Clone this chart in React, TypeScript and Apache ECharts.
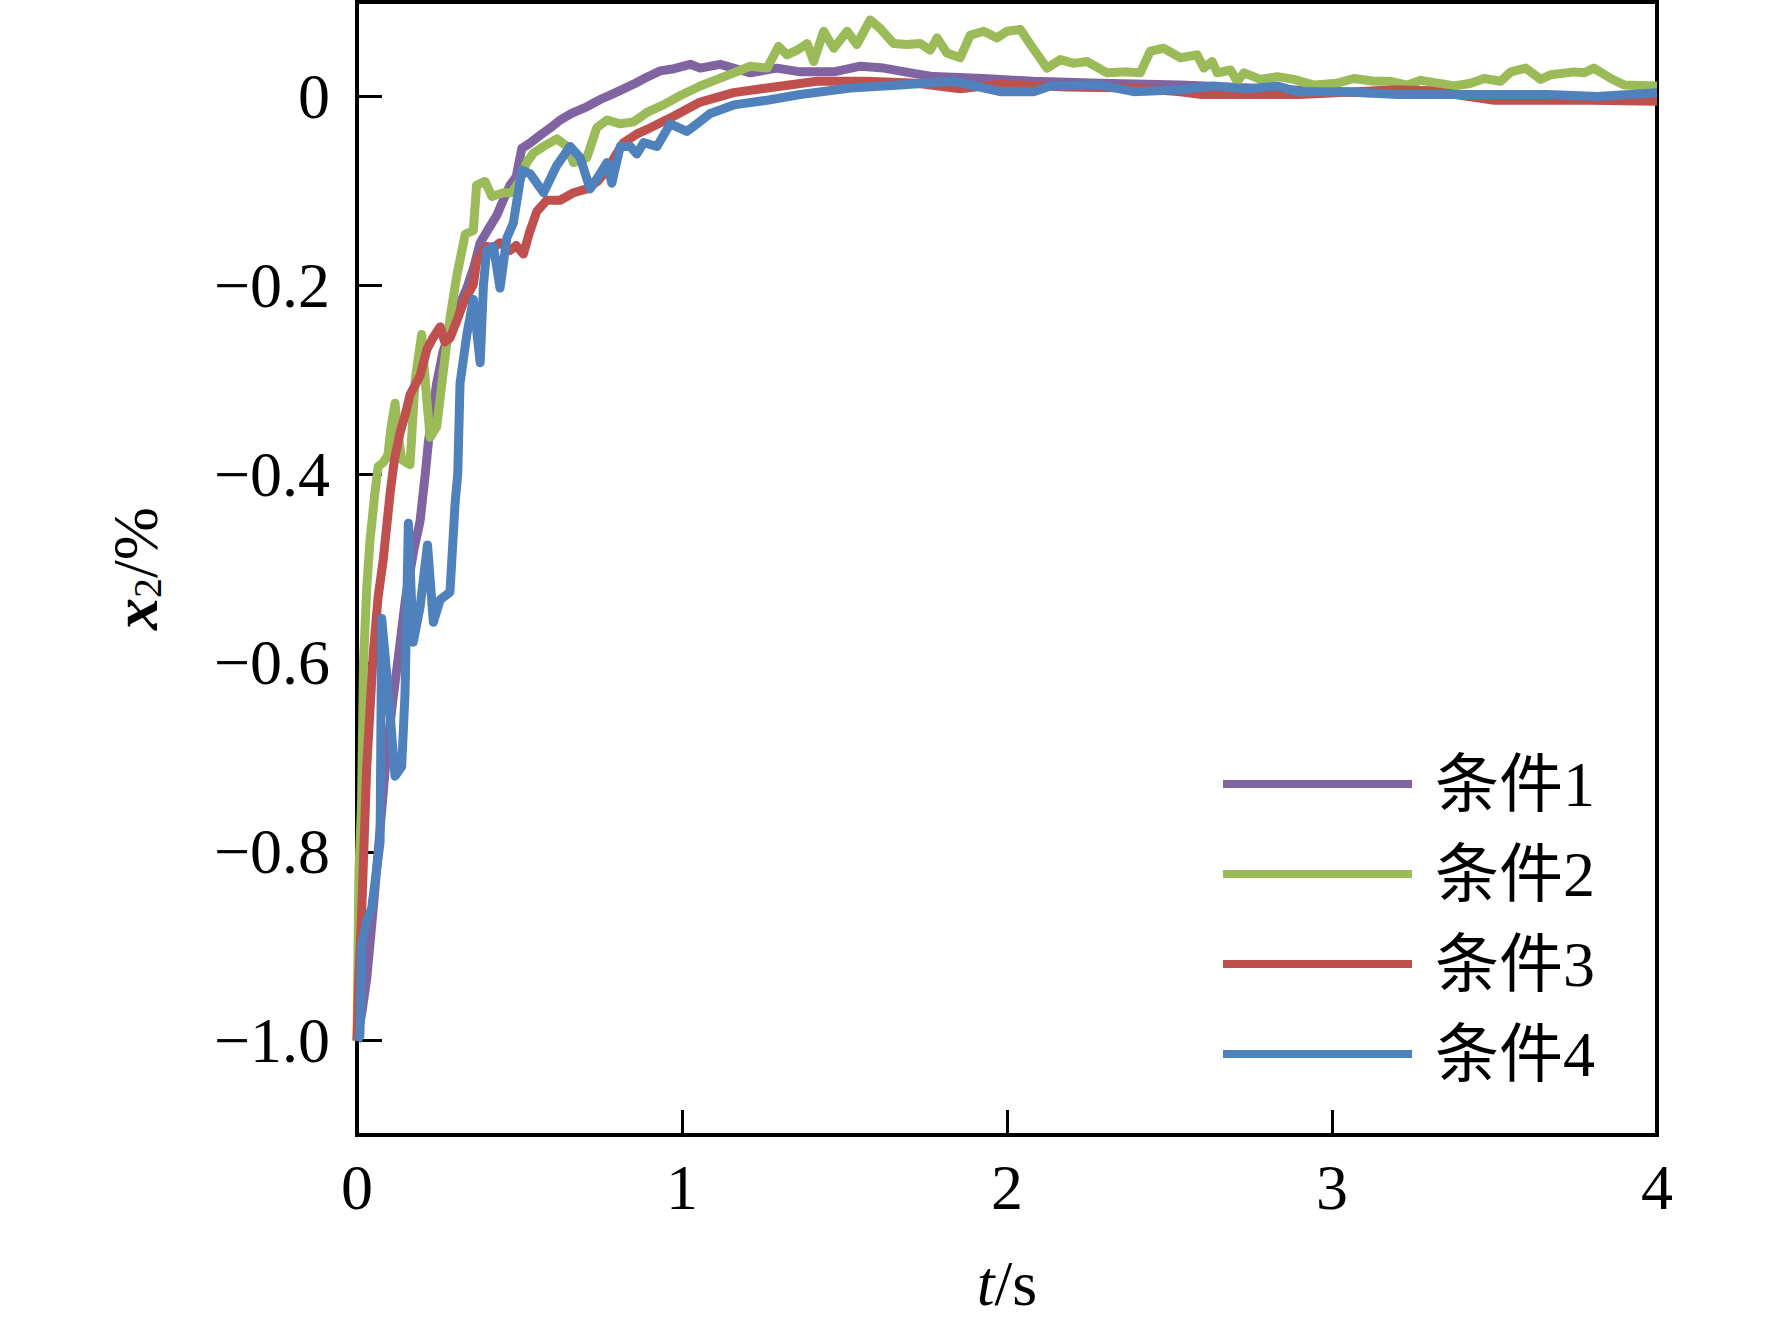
import React, { useEffect, useRef } from "react";
import * as echarts from "echarts";

const seriesNames = ["条件1", "条件2", "条件3", "条件4"];
const seriesColors = ["#8064A2", "#9BBB59", "#C0504D", "#4F81BD"];

const xTicks = [0, 1, 2, 3, 4];
const yTicks = [-1.0, -0.8, -0.6, -0.4, -0.2, 0];

const cond1: [number, number][] = [
  [0, -1.0], [0.015, -0.97], [0.03, -0.934], [0.05, -0.86], [0.07, -0.78], [0.09, -0.7],
  [0.11, -0.64], [0.125, -0.6], [0.15, -0.53], [0.175, -0.48], [0.194, -0.45], [0.21, -0.4],
  [0.22, -0.365], [0.245, -0.304], [0.265, -0.27], [0.286, -0.25], [0.31, -0.225], [0.338, -0.203],
  [0.36, -0.18], [0.379, -0.155], [0.405, -0.14], [0.43, -0.126], [0.45, -0.11], [0.471, -0.094],
  [0.49, -0.085], [0.507, -0.055], [0.53, -0.05], [0.564, -0.041], [0.6, -0.032], [0.625, -0.025],
  [0.66, -0.018], [0.707, -0.011], [0.75, -0.003], [0.789, 0.003], [0.82, 0.008], [0.851, 0.013],
  [0.89, 0.02], [0.933, 0.027], [0.97, 0.029], [1.025, 0.034], [1.056, 0.03], [1.118, 0.034],
  [1.179, 0.028], [1.21, 0.025], [1.292, 0.03], [1.364, 0.026], [1.467, 0.026], [1.549, 0.032],
  [1.621, 0.03], [1.703, 0.025], [1.774, 0.021], [1.928, 0.019], [2.082, 0.016], [2.287, 0.014],
  [2.534, 0.012], [2.8, 0.008], [3.1, 0.004], [3.4, 0.002], [3.7, 0.0], [4.0, -0.003],
];

const cond2: [number, number][] = [
  [0, -1.0], [0.006, -0.82], [0.014, -0.75], [0.02, -0.6], [0.03, -0.52], [0.04, -0.47],
  [0.055, -0.42], [0.065, -0.392], [0.08, -0.388], [0.095, -0.38], [0.105, -0.35], [0.117, -0.325],
  [0.127, -0.36], [0.138, -0.385], [0.163, -0.39], [0.179, -0.3], [0.199, -0.252], [0.212, -0.31],
  [0.225, -0.361], [0.245, -0.35], [0.266, -0.29], [0.286, -0.235], [0.307, -0.19], [0.333, -0.146],
  [0.358, -0.142], [0.368, -0.094], [0.394, -0.09], [0.415, -0.106], [0.451, -0.102], [0.476, -0.102],
  [0.5, -0.09], [0.522, -0.07], [0.543, -0.06], [0.574, -0.053], [0.615, -0.045], [0.646, -0.053],
  [0.666, -0.07], [0.707, -0.065], [0.738, -0.033], [0.769, -0.025], [0.81, -0.029], [0.851, -0.027],
  [0.892, -0.017], [0.943, -0.009], [0.995, 0.001], [1.056, 0.011], [1.108, 0.018], [1.159, 0.025],
  [1.21, 0.032], [1.262, 0.03], [1.297, 0.053], [1.323, 0.044], [1.354, 0.049], [1.385, 0.056],
  [1.405, 0.037], [1.436, 0.069], [1.467, 0.051], [1.508, 0.069], [1.538, 0.055], [1.579, 0.081],
  [1.61, 0.072], [1.651, 0.056], [1.692, 0.055], [1.733, 0.056], [1.764, 0.049], [1.785, 0.062],
  [1.815, 0.046], [1.856, 0.041], [1.887, 0.065], [1.928, 0.069], [1.969, 0.062], [2.0, 0.069],
  [2.041, 0.071], [2.072, 0.055], [2.123, 0.03], [2.164, 0.039], [2.205, 0.035], [2.246, 0.037],
  [2.308, 0.025], [2.369, 0.026], [2.41, 0.025], [2.441, 0.048], [2.482, 0.051], [2.534, 0.041],
  [2.585, 0.044], [2.606, 0.03], [2.631, 0.037], [2.647, 0.025], [2.688, 0.028], [2.708, 0.016],
  [2.729, 0.025], [2.78, 0.018], [2.832, 0.021], [2.883, 0.018], [2.944, 0.012], [3.016, 0.014],
  [3.067, 0.019], [3.129, 0.016], [3.18, 0.016], [3.232, 0.012], [3.273, 0.017], [3.345, 0.013],
  [3.375, 0.011], [3.427, 0.014], [3.468, 0.019], [3.519, 0.016], [3.55, 0.026], [3.596, 0.03],
  [3.642, 0.018], [3.673, 0.023], [3.745, 0.026], [3.776, 0.025], [3.806, 0.03], [3.858, 0.019],
  [3.899, 0.012], [4.0, 0.011],
];

const cond3: [number, number][] = [
  [0, -1.0], [0.006, -0.93], [0.014, -0.867], [0.03, -0.71], [0.05, -0.59], [0.065, -0.53],
  [0.081, -0.49], [0.102, -0.42], [0.115, -0.385], [0.132, -0.357], [0.15, -0.335], [0.163, -0.316],
  [0.18, -0.305], [0.194, -0.296], [0.215, -0.268], [0.235, -0.255], [0.256, -0.244], [0.27, -0.26],
  [0.286, -0.256], [0.31, -0.235], [0.327, -0.219], [0.358, -0.199], [0.368, -0.175], [0.399, -0.159],
  [0.42, -0.16], [0.44, -0.155], [0.471, -0.163], [0.49, -0.158], [0.512, -0.167], [0.53, -0.145],
  [0.553, -0.122], [0.584, -0.11], [0.625, -0.11], [0.666, -0.102], [0.707, -0.098], [0.74, -0.09],
  [0.769, -0.078], [0.8, -0.06], [0.82, -0.049], [0.86, -0.04], [0.892, -0.035], [0.974, -0.021],
  [1.056, -0.006], [1.159, 0.004], [1.262, 0.009], [1.415, 0.016], [1.569, 0.016], [1.723, 0.014],
  [1.856, 0.008], [1.979, 0.013], [2.185, 0.01], [2.39, 0.009], [2.534, 0.005], [2.6, 0.002],
  [2.9, 0.002], [3.2, 0.007], [3.3, 0.006], [3.5, -0.004], [3.8, -0.004], [4.0, -0.005],
];

const cond4: [number, number][] = [
  [0, -1.0], [0.009, -0.995], [0.014, -0.9], [0.03, -0.873], [0.045, -0.86], [0.06, -0.82],
  [0.071, -0.79], [0.076, -0.553], [0.091, -0.61], [0.102, -0.655], [0.117, -0.72], [0.1375, -0.71],
  [0.148, -0.63], [0.158, -0.452], [0.173, -0.578], [0.194, -0.541], [0.217, -0.475], [0.235, -0.557],
  [0.256, -0.533], [0.286, -0.525], [0.302, -0.43], [0.31, -0.4], [0.317, -0.304], [0.338, -0.252],
  [0.358, -0.215], [0.379, -0.282], [0.389, -0.2], [0.399, -0.163], [0.42, -0.159], [0.44, -0.203],
  [0.461, -0.15], [0.481, -0.134], [0.507, -0.078], [0.533, -0.082], [0.574, -0.102], [0.615, -0.073],
  [0.656, -0.053], [0.687, -0.065], [0.717, -0.098], [0.748, -0.082], [0.769, -0.07], [0.784, -0.092],
  [0.81, -0.053], [0.841, -0.053], [0.861, -0.061], [0.882, -0.049], [0.923, -0.053], [0.964, -0.029],
  [1.015, -0.037], [1.046, -0.029], [1.087, -0.018], [1.159, -0.009], [1.262, -0.004], [1.364, 0.002],
  [1.518, 0.009], [1.672, 0.012], [1.836, 0.016], [1.979, 0.005], [2.082, 0.005], [2.133, 0.011],
  [2.287, 0.012], [2.39, 0.005], [2.534, 0.007], [2.636, 0.011], [2.739, 0.008], [2.832, 0.011],
  [2.893, 0.005], [3.047, 0.005], [3.201, 0.002], [3.355, 0.002], [3.663, 0.002], [3.817, 0.0],
  [4.0, 0.004],
];

const seriesData = [cond1, cond2, cond3, cond4];

const SERIF = "'Liberation Serif', 'Times New Roman', serif";
const MIXED = "'Liberation Serif', 'Noto Sans CJK SC', serif";

export default function App() {
  const ref = useRef<HTMLDivElement>(null);

  useEffect(() => {
    document.body.style.margin = "0";
    if (!ref.current) return;
    const chart = echarts.init(ref.current, undefined, { renderer: "svg" });
    const fmt = (v: number) => (Math.abs(v) < 1e-9 ? "0" : v.toFixed(1).replace("-", "\u2212"));
    chart.setOption({
      animation: false,
      backgroundColor: "#ffffff",
      grid: {
        left: 357,
        right: 115,
        top: 2,
        bottom: 187,
        show: true,
        borderColor: "#000",
        borderWidth: 4,
        backgroundColor: "transparent",
      },
      legend: {
        orient: "vertical",
        left: 1218,
        top: 747,
        itemWidth: 189,
        itemHeight: 8,
        itemGap: 26,
        icon: "rect",
        data: seriesNames,
        textStyle: {
          fontFamily: MIXED,
          fontSize: 64,
          lineHeight: 64,
          color: "#000",
          padding: [0, 0, 0, 18],
        },
      },
      xAxis: {
        type: "value",
        min: 0,
        max: 4,
        interval: 1,
        axisLine: { show: false, onZero: false },
        splitLine: { show: false },
        axisTick: { show: true, inside: true, length: 25, lineStyle: { color: "#000", width: 3 } },
        axisLabel: {
          margin: 20,
          fontFamily: SERIF,
          fontSize: 64,
          color: "#000",
          customValues: xTicks,
          formatter: (v: number) => String(v),
        },
        name: "{i|t}{n|/s}",
        nameLocation: "middle",
        nameGap: 116,
        nameTextStyle: {
          rich: {
            i: { fontFamily: SERIF, fontStyle: "italic", fontSize: 64, color: "#000" },
            n: { fontFamily: SERIF, fontSize: 64, color: "#000" },
          },
        },
      },
      yAxis: {
        type: "value",
        min: -1.1,
        max: 0.1,
        interval: 0.1,
        axisLine: { show: false, onZero: false },
        splitLine: { show: false },
        axisTick: {
          show: true,
          inside: true,
          length: 25,
          customValues: yTicks,
          lineStyle: { color: "#000", width: 3 },
        },
        axisLabel: {
          margin: 27,
          fontFamily: SERIF,
          fontSize: 64,
          color: "#000",
          customValues: yTicks,
          formatter: fmt,
        },
        name: "{x|x}{s|2}{n|/%}",
        nameLocation: "middle",
        nameGap: 190,
        nameRotate: 90,
        nameTextStyle: {
          rich: {
            x: {
              fontFamily: SERIF,
              fontStyle: "italic",
              fontWeight: "bold",
              fontSize: 64,
              lineHeight: 64,
              color: "#000",
            },
            s: {
              fontFamily: SERIF,
              fontSize: 40,
              lineHeight: 40,
              verticalAlign: "bottom",
              padding: [14, 0, 0, 0],
              color: "#000",
            },
            n: { fontFamily: SERIF, fontSize: 64, lineHeight: 64, color: "#000" },
          },
        },
      },
      series: seriesNames.map((name, i) => ({
        name,
        type: "line",
        data: seriesData[i],
        showSymbol: false,
        symbol: "none",
        color: seriesColors[i],
        lineStyle: { color: seriesColors[i], width: 9, join: "round" },
      })),
    });
    return () => chart.dispose();
  }, []);

  return (
    <div
      ref={ref}
      style={{ position: "absolute", left: 0, top: 0, width: 1772, height: 1322, background: "#fff" }}
    />
  );
}
